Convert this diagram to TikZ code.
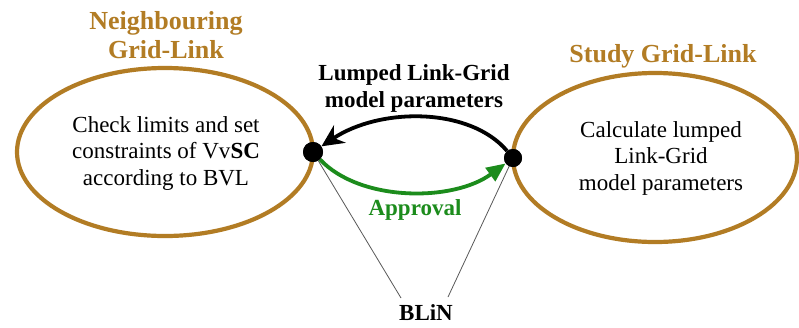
\documentclass[tikz,border=0pt]{standalone}
\usepackage{fontspec}
\setmainfont{Liberation Serif}
\usetikzlibrary{arrows.meta}
\definecolor{gridgold}{RGB}{178,124,36}
\definecolor{apgreen}{RGB}{28,140,28}
\begin{document}
\begin{tikzpicture}[x=1pt,y=-1pt,
  gridring/.style={draw=gridgold,line width=4.2pt},
  headtxt/.style={text=gridgold,font=\fontsize{26}{29}\selectfont\bfseries,align=center,inner sep=0pt},
  bodytxt/.style={font=\fontsize{23}{26.5}\selectfont,align=center,inner sep=0pt},
  lbltxt/.style={font=\fontsize{23}{27}\selectfont\bfseries,align=center,inner sep=0pt},
  dot/.style={circle,fill=black,inner sep=0pt,minimum size=20pt},
  thinlink/.style={draw=black!65,line width=0.8pt}]
\useasboundingbox (0,0) rectangle (799,327);
\fill[white] (0,0) rectangle (799,327);

% the two grid-link areas
\draw[gridring] (165,152) ellipse [x radius=148, y radius=84];
\draw[gridring] (655,157.5) ellipse [x radius=142, y radius=84.5];

% titles
\node[headtxt] (nbtitle) at (166,35.6) {Neighbouring\\Grid-Link};
\node[headtxt,anchor=base] (sttitle) at (663,62) {Study Grid-Link};

% contents of the areas
\node[bodytxt] (nbtext) at (166,153) {Check limits and set\\constraints of Vv\textbf{SC}\\according to BVL};
\node[bodytxt] (sttext) at (661,158) {Calculate lumped\\Link-Grid\\model parameters};

% boundary link nodes
\node[dot] (L) at (313,152) {};
\node[dot,minimum size=18pt] (R) at (513,158) {};

% exchanges between the two sides
\draw[line width=3.8pt,-{Stealth[length=22pt,width=21pt]}]
  (R) .. controls (470,107) and (380,107) .. (L);
\draw[apgreen,line width=3.8pt,-{Triangle[length=19pt,width=16pt]}]
  (L) .. controls (360,202) and (453,202) .. (R);

\node[lbltxt] (lumped) at (414,88) {Lumped Link-Grid\\model parameters};
\node[lbltxt,text=apgreen,anchor=base] (appr) at (415,215) {Approval};

% BLiN label and its pointers
\node[lbltxt,anchor=base] (blin) at (426,320) {BLiN};
\coordinate (bl) at (401,298);
\coordinate (br) at (448,297);
\draw[thinlink] (L.center) -- (bl);
\draw[thinlink] (R.center) -- (br);
\fill (L) circle (10pt);
\fill (R) circle (9pt);
\end{tikzpicture}
\end{document}
